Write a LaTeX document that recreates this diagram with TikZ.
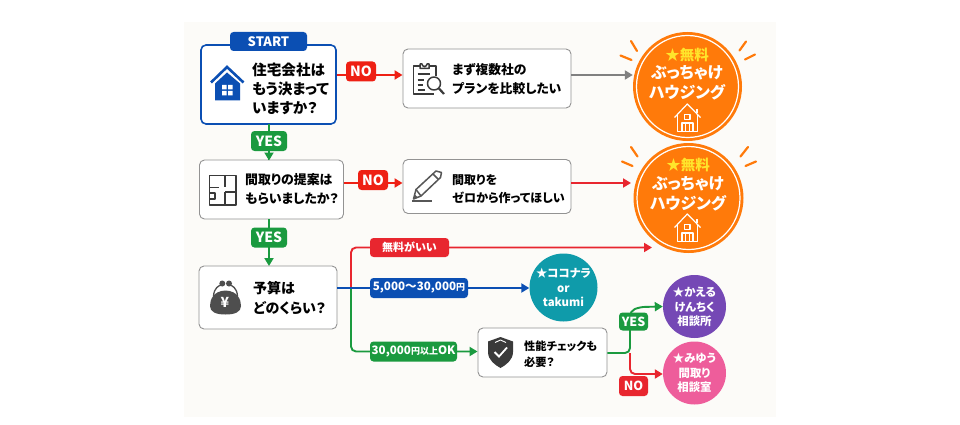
\documentclass[tikz,border=0pt]{standalone}
\usepackage{fontspec}
\setmainfont{Noto Sans CJK JP}[RawFeature=+palt]
\usetikzlibrary{arrows.meta,calc}
\definecolor{cream}{HTML}{FCFBF8}
\definecolor{cblue}{HTML}{0B4FB3}
\definecolor{cred}{HTML}{E8262F}
\definecolor{cnored}{HTML}{EE2014}
\definecolor{cgreen}{HTML}{1A9A3F}
\definecolor{corange}{HTML}{FF7A0A}
\definecolor{cteal}{HTML}{0F9BAA}
\definecolor{cpurple}{HTML}{7548B5}
\definecolor{cpink}{HTML}{EE5D9B}
\definecolor{cgray}{HTML}{808080}
\definecolor{cdark}{HTML}{3A3A3A}
\definecolor{cyel}{HTML}{FFE52B}
\tikzset{
 x=1pt,y=-1pt,
 box/.style={draw=cgray!85,line width=0.9pt,fill=white,rounded corners=5pt,inner sep=0pt},
 lab/.style={rounded corners=3.5pt,inner sep=0pt,text=white,font=\bfseries\fontsize{14}{15}\selectfont},
 txt/.style={anchor=west,align=left,inner sep=0pt,text=black,font=\bfseries\fontsize{12.9}{19.2}\selectfont},
 circ/.style={circle,inner sep=0pt,align=center,text=white,font=\bfseries\fontsize{10.6}{15}\selectfont},
 link/.style={line width=1.9pt,-{Triangle[length=8pt,width=9pt]},rounded corners=5pt},
 bare/.style={line width=1.9pt,rounded corners=5pt},
 ray/.style={corange,line width=2.2pt,line cap=round},
 ico/.style={cdark,line width=1.5pt,line join=round},
}
\newcommand{\whouse}[1]{%
 \begin{scope}[yshift=#1,white,line width=1.2pt,line join=round]
  \draw (674.5,117.5)--(687.3,104)--(700.5,117.5);
  \draw (697,109)--(697,113);
  \draw (677.5,115)--(677.5,131.5)--(697.5,131.5)--(697.5,115);
  \draw (684.8,114.5) rectangle (690,119.5);
  \draw (682,131.5)--(682,123)--(693,123)--(693,131.5);
  \draw (685.6,123)--(685.6,131.5) (689.3,123)--(689.3,131.5);
 \end{scope}}
\newcommand{\ytext}{\fontsize{9}{10}\selectfont 円}
\begin{document}
\begin{tikzpicture}
\useasboundingbox (0,0) rectangle (960,425);
\fill[white] (0,0) rectangle (960,425);
\fill[cream] (184,22) rectangle (776,417);

% junctions
\coordinate (pinA) at (0,75);
\coordinate (pinB) at (0,183);
\coordinate (pinC) at (0,288);
\coordinate (pinD) at (0,353);

% boxes
\node[box,draw=cblue,line width=1.6pt,minimum width=135pt,minimum height=79pt] (q1) at (268.5,84.5) {};
\node[lab,fill=cblue,minimum width=77pt,minimum height=19pt,font=\bfseries\fontsize{13}{14}\selectfont] (start) at (268.5,41.5) {START};
\node[box,minimum width=168pt,minimum height=59pt] (r1) at (487,78.5) {};
\node[box,minimum width=144pt,minimum height=59pt] (q2) at (271.5,189.5) {};
\node[box,minimum width=168pt,minimum height=54pt] (r2) at (487,186.5) {};
\node[box,minimum width=138pt,minimum height=63pt] (q3) at (268,297.5) {};
\node[box,minimum width=129pt,minimum height=49pt] (q4) at (542.5,352.5) {};

% circles
\node[circ,fill=corange,minimum size=109pt] (c1) at (687.5,86.5) {};
\node[circ,fill=corange,minimum size=110pt] (c2) at (688.5,198) {};
\draw[white,line width=1.2pt] (c1.center) circle (51pt);
\draw[white,line width=1.2pt] (c2.center) circle (51.5pt);
\node[circ,fill=cteal,minimum size=68pt] (c3) at (563.5,287.5) {};
\node[circ,fill=cpurple,minimum size=63pt] (c4) at (694.5,306.5) {};
\node[circ,fill=cpink,minimum size=63pt] (c5) at (694.5,373) {};

% branch connectors
\draw[bare,cgreen] (q1.south) -- (q2.north -| q1.south);
\draw[link,cgreen] (269,124) -- (269,160.5);
\draw[link,cgreen] (269,219) -- (269,266);
\draw[link,cnored] (q1.east |- pinA) -- (r1.west |- pinA);
\draw[link,cgray,line width=2.5pt] (r1.east |- pinA) -- (c1.west |- pinA);
\draw[link,cnored] (q2.east |- pinB) -- (r2.west |- pinB);
\draw[link,cred] (r2.east |- pinB) -- (631,183);

\coordinate (free) at (652,247.5);
\draw[link,cgreen] (351,288) -- (351,351.5) -- (q4.west |- 0,351.5);
\draw[link,cred] (351,288) -- (351,247.5) -- (free);
\draw[link,cblue] (q3.east |- pinC) -- (c3.west |- pinC);

\coordinate (fork) at (630,353);
\draw[link,cred] (fork) -- (630,374) -- (c5.west |- 0,374);
\draw[link,cgreen] (q4.east |- pinD) -- (fork) -- (630,311) -- (640,307) -- (c4.west |- c4.center);

% labels
\node[lab,fill=cgreen,minimum width=36pt,minimum height=20pt] (y1) at (269,141) {YES};
\node[lab,fill=cgreen,minimum width=36pt,minimum height=20pt] (y2) at (269,237.5) {YES};
\node[lab,fill=cnored,minimum width=30pt,minimum height=20pt] (n1) at (361,71.5) {NO};
\node[lab,fill=cnored,minimum width=30pt,minimum height=20pt] (n2) at (373,180) {NO};
\node[lab,fill=cred,minimum width=79pt,minimum height=19pt,font=\bfseries\fontsize{11}{12}\selectfont] (l1) at (409.5,247.5) {無料がいい};
\node[lab,fill=cblue,minimum width=98pt,minimum height=20pt,font=\bfseries\fontsize{11.6}{13}\selectfont] (l2) at (419,288) {5,000～30,000\ytext};
\node[lab,fill=cgreen,minimum width=87pt,minimum height=20pt,font=\bfseries\fontsize{11.6}{13}\selectfont] (l3) at (413.5,351.5) {30,000\ytext\fontsize{9}{10}\selectfont 以上\fontsize{11.6}{13}\selectfont OK};
\node[lab,fill=cgreen,minimum width=29pt,minimum height=18pt,font=\bfseries\fontsize{12.5}{13}\selectfont] (y3) at (633.5,321.5) {YES};
\node[lab,fill=cred,minimum width=29pt,minimum height=20pt,font=\bfseries\fontsize{12.5}{13}\selectfont] (n3) at (633.5,386) {NO};

% texts
\node[txt,font=\bfseries\fontsize{14.6}{19}\selectfont] (t1) at (252,89) {住宅会社は\\もう決まって\\いますか？};
\node[txt,font=\bfseries\fontsize{12.8}{18.5}\selectfont] (t2) at (452,79) {まず複数社の\\プランを比較したい};
\node[txt] (t3) at (245,189.5) {間取りの提案は\\もらいましたか？};
\node[txt,font=\bfseries\fontsize{12}{18.5}\selectfont] (t4) at (452,189) {間取りを\\ゼロから作ってほしい};
\node[txt,font=\bfseries\fontsize{14}{20}\selectfont] (t5) at (253,298) {予算は\\どのくらい？};
\node[txt,font=\bfseries\fontsize{11.2}{16}\selectfont] (t6) at (524,354) {性能チェックも\\必要？};

\node[inner sep=0pt,text=cyel,font=\bfseries\fontsize{14.5}{15}\selectfont] (s1) at (687,55) {★無料};
\node[inner sep=0pt,align=center,text=white,font=\bfseries\fontsize{16}{20}\selectfont] (h1) at (687,83) {ぶっちゃけ\\ハウジング};
\node[inner sep=0pt,text=cyel,font=\bfseries\fontsize{14.5}{15}\selectfont] (s2) at (688,164.5) {★無料};
\node[inner sep=0pt,align=center,text=white,font=\bfseries\fontsize{16}{20}\selectfont] (h2) at (688,194) {ぶっちゃけ\\ハウジング};
\node[inner sep=0pt,align=center,text=white,font=\bfseries\fontsize{11.4}{14.5}\selectfont] (x3) at (563.5,287.5) {★ココナラ\\or\\takumi};
\node[inner sep=0pt,align=center,text=white,font=\bfseries\fontsize{11.4}{14.5}\selectfont] (x4) at (694.5,307) {★かえる\\けんちく\\相談所};
\node[inner sep=0pt,align=center,text=white,font=\bfseries\fontsize{11.4}{14.5}\selectfont] (x5) at (694.5,373) {★みゆう\\間取り\\相談室};

% rays
\draw[ray] (631,41)--(637,51) (620.5,55.5)--(631.5,60) (746,41.5)--(739.5,50.5) (755,54.5)--(745,59.5);
\draw[ray] (631,147)--(637.5,156.5) (622,161.5)--(632.5,166) (748,147)--(740.5,156.5) (756,161.5)--(745.5,166);

\whouse{0}
\whouse{-110}

% house icon
\fill[cblue] (215,83.5)--(227,72.5)--(240,83.5)--(240,100.5)--(215,100.5)--cycle;
\draw[cblue,line width=2.6pt,line join=miter] (211,82.5)--(227,67)--(243.5,82.5);
\fill[white] (222,85) rectangle (226.7,89.5) (228,85) rectangle (232.7,89.5) (222,91) rectangle (226.7,95.5) (228,91) rectangle (232.7,95.5);

% clipboard icon
\begin{scope}[ico]
 \draw (420,66)--(413.5,66)--(413.5,94)--(434,94);
 \draw (429,66)--(436,66)--(436,76);
 \draw (420,68.5)--(420,64)--(422,64) arc (180:0:2.5)--(429,64)--(429,68.5)--cycle;
 \draw (417.5,74)--(430,74) (417.5,80)--(424,80) (417.5,85)--(423,85) (417.5,90)--(425,90);
 \draw (434,83.5) circle (6.5pt);
 \draw[line width=2.2pt] (439,88.5)--(444,94);
\end{scope}
% pencil icon
\begin{scope}[ico,cdark!85]
 \draw (413.5,199)--(416,189.5)--(436,171)--(441.5,172.5)--(440.5,177.5)--(421,196)--cycle;
 \draw (433,174)--(438.5,179.5) (416,189.5)--(421,196);
 \fill (413.5,199)--(414.8,194.5)--(418,197.5)--cycle;
 \draw (412,201)--(432,201);
\end{scope}
% floor plan icon
\begin{scope}[ico,line width=1.6pt,cdark]
 \draw (209.5,175.5) rectangle (236,205);
 \draw (209.5,187.5)--(219,187.5) (225,175.5)--(225,187) (225,192)--(236,192) (225,192)--(225,205);
 \draw (209.5,193)--(215,193)--(215,199)--(209.5,199);
 \draw (215,205)--(220,205);
\end{scope}
% purse icon
\begin{scope}[cdark!90]
 \fill (225.5,290.5) .. controls (213,291) and (210,300) .. (210,306) .. controls (210,312) and (216,314.5) .. (225.5,314.5) .. controls (235,314.5) and (241,312) .. (241,306) .. controls (241,300) and (238,291) .. (225.5,290.5) -- cycle;
 \draw[line width=1.3pt] (213.5,296) .. controls (214,288) and (219,285) .. (222,285) (237.5,296) .. controls (237,288) and (232,285) .. (229,285);
 \fill (222.3,283.5) circle (3pt) (229,283.5) circle (3pt);
 \node[inner sep=0pt,text=white,font=\bfseries\fontsize{14}{15}\selectfont] (yen) at (225,302) {¥};
\end{scope}
% shield icon
\fill[cdark] (500.5,337) -- (513,341.5) -- (513,352) .. controls (513,360) and (506,365) .. (500.5,368) .. controls (495,365) and (488,360) .. (488,352) -- (488,341.5) -- cycle;
\draw[white,line width=0.9pt] (495,342.5)--(500.5,340)--(506,342.5);
\draw[white,line width=1.8pt] (494.5,352)--(499,356.5)--(507,347.5);
\end{tikzpicture}
\end{document}
